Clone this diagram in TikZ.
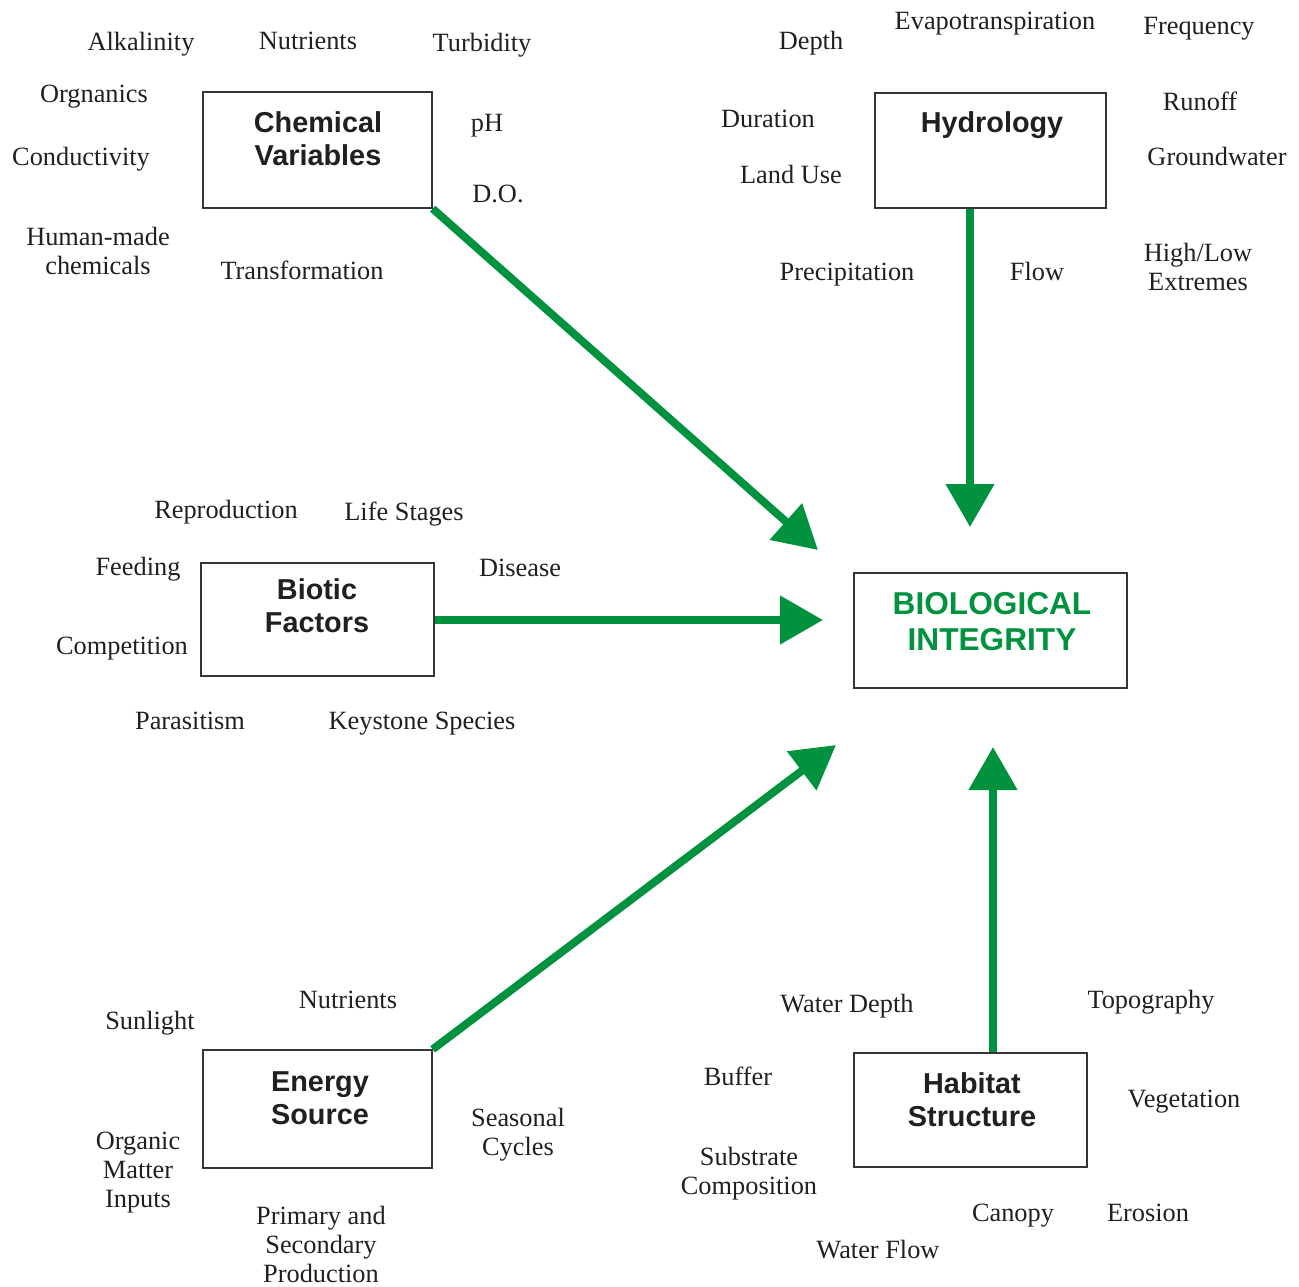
\documentclass[tikz,border=0pt]{standalone}
\usepackage{fontspec}
\setmainfont{Liberation Serif}
\setsansfont{Liberation Sans}
\usepackage{tikz}
\usetikzlibrary{arrows.meta,positioning,calc}
\usepackage{xcolor}
\definecolor{bigreen}{RGB}{0,146,63}
\definecolor{biink}{RGB}{35,31,32}
\definecolor{biframe}{RGB}{55,52,53}
\tikzstyle{factorbox} = [rectangle, draw=biframe, line width=0.8pt, fill=white, inner sep=0pt]
\tikzstyle{boxtitle} = [font=\fontsize{16.4}{18.8}\selectfont\sffamily\bfseries, text=biink, align=center, inner sep=0pt]
\tikzstyle{attr} = [font=\fontsize{15}{16.5}\selectfont, text=biink, inner sep=0pt, text height=0.92em, text depth=0pt]
\tikzstyle{attrlines} = [font=\fontsize{15}{16.5}\selectfont, text=biink, inner sep=0pt, align=center]
\tikzstyle{flow} = [line width=4.5pt, color=bigreen, -{Triangle[length=0.86cm,width=0.94cm]}]

\begin{document}
\begin{tikzpicture}[x=0.02cm, y=-0.02cm]
\useasboundingbox (0,0) rectangle (1299,1286);

% central box
\node[factorbox, minimum width=5.46cm, minimum height=2.3cm] (bio) at (990.5,630.5) {};
\node[boxtitle, font=\fontsize{18}{20.5}\selectfont\sffamily\bfseries, text=bigreen] (biot) at (992,622) {BIOLOGICAL\\INTEGRITY};

% the five factor boxes
\node[factorbox, minimum width=4.58cm, minimum height=2.32cm] (chem) at (317.5,150) {};
\node[boxtitle] (chemt) at (318,139) {Chemical\\Variables};
\node[factorbox, minimum width=4.62cm, minimum height=2.3cm] (hydro) at (990.5,150.5) {};
\node[boxtitle] (hydrot) at (992,125) {Hydrology};
\node[factorbox, minimum width=4.66cm, minimum height=2.26cm] (biotic) at (317.5,619.5) {};
\node[boxtitle] (biotict) at (317,606) {Biotic\\Factors};
\node[factorbox, minimum width=4.58cm, minimum height=2.36cm] (energy) at (317.5,1109) {};
\node[boxtitle] (energyt) at (320,1098) {Energy\\Source};
\node[factorbox, minimum width=4.66cm, minimum height=2.28cm] (habit) at (970.5,1110) {};
\node[boxtitle] (habitt) at (972,1100) {Habitat\\Structure};

% arrow tips
\coordinate (chemtip) at (818,550);
\coordinate (hydrotip) at (970,527);
\coordinate (biotictip) at (823,620);
\coordinate (energytip) at (836,745);
\coordinate (habittip) at (993,747);

\draw[flow] (chem.south east) -- (chemtip);
\draw[flow] (hydro.south -| hydrotip) -- (hydrotip);
\draw[flow] (biotic.east |- biotictip) -- (biotictip);
\draw[flow] (energy.north east) -- (energytip);
\draw[flow] (habit.north -| habittip) -- (habittip);

% chemical variables
\node[attr] (alk) at (141,42) {Alkalinity};
\node[attr] (nutr) at (308,41) {Nutrients};
\node[attr] (turb) at (482,43) {Turbidity};
\node[attr] (orgn) at (94,94) {Orgnanics};
\node[attr] (ph) at (487,123) {pH};
\node[attr] (cond) at (81,157) {Conductivity};
\node[attr] (do) at (498,194) {D.O.};
\node[attrlines] (human) at (98,251) {Human-made\\chemicals};
\node[attr] (transf) at (302,271) {Transformation};

% hydrology
\node[attr] (depth) at (811,41) {Depth};
\node[attr] (evap) at (995,21) {Evapotranspiration};
\node[attr] (freq) at (1199,26) {Frequency};
\node[attr] (runoff) at (1200,102) {Runoff};
\node[attr] (durat) at (768,119) {Duration};
\node[attr] (ground) at (1217,157) {Groundwater};
\node[attr] (landuse) at (791,175) {Land Use};
\node[attr] (precip) at (847,272) {Precipitation};
\node[attr] (flowh) at (1037,272) {Flow};
\node[attrlines] (extr) at (1198,267) {High/Low\\Extremes};

% biotic factors
\node[attr] (repro) at (226,510) {Reproduction};
\node[attr] (life) at (404,512) {Life Stages};
\node[attr] (feed) at (138,567) {Feeding};
\node[attr] (disease) at (520,568) {Disease};
\node[attr] (compet) at (122,646) {Competition};
\node[attr] (parasit) at (190,721) {Parasitism};
\node[attr] (keyst) at (422,721) {Keystone Species};

% energy source
\node[attr] (nutre) at (348,1000) {Nutrients};
\node[attr] (sun) at (150,1021) {Sunlight};
\node[attrlines] (season) at (518,1135) {Seasonal\\Cycles};
\node[attrlines] (organic) at (138,1173) {Organic\\Matter\\Inputs};
\node[attrlines] (prod) at (321,1244) {Primary and\\Secondary\\Production};

% habitat structure
\node[attr] (wdepth) at (847,1004) {Water Depth};
\node[attr] (topo) at (1151,1000) {Topography};
\node[attr] (buffer) at (738,1077) {Buffer};
\node[attr] (veget) at (1184,1099) {Vegetation};
\node[attrlines] (substr) at (749,1174) {Substrate\\Composition};
\node[attr] (canopy) at (1013,1213) {Canopy};
\node[attr] (erosion) at (1148,1213) {Erosion};
\node[attr] (wflow) at (878,1250) {Water Flow};
\end{tikzpicture}
\end{document}
